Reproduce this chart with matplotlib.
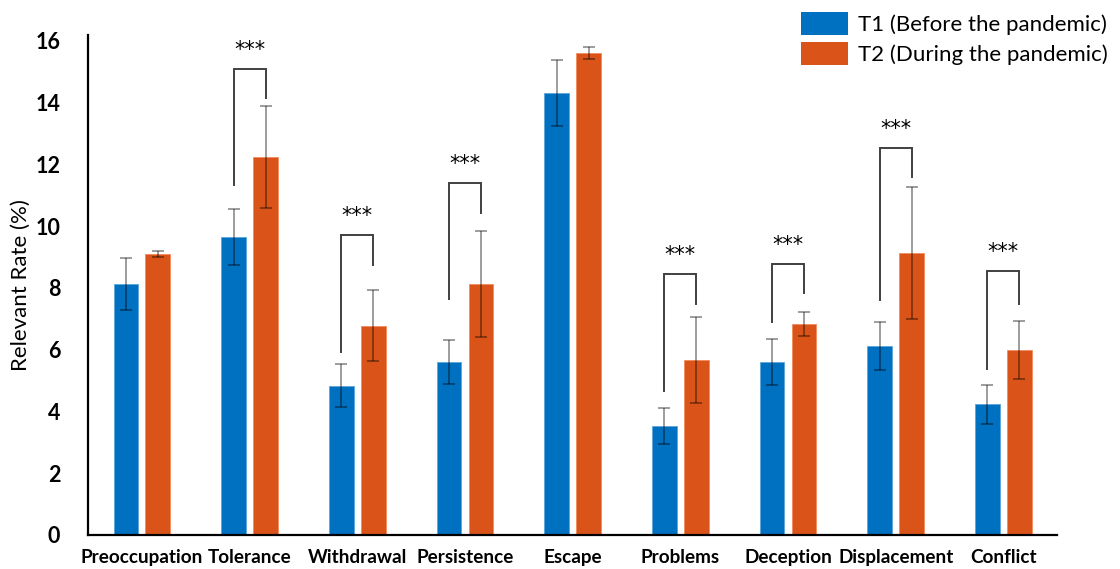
import matplotlib
matplotlib.use('Agg')
from matplotlib import pyplot as plt
from matplotlib.patches import Patch
import numpy as np

categories = ["Preoccupation", "Tolerance", "Withdrawal", "Persistence", "Escape",
              "Problems", "Deception", "Displacement", "Conflict"]
t1_values = [8.13, 9.65, 4.83, 5.60, 14.32, 3.53, 5.60, 6.12, 4.24]
t1_errors = [0.84, 0.92, 0.70, 0.70, 1.08, 0.57, 0.74, 0.78, 0.63]
t2_values = [9.10, 12.24, 6.77, 8.13, 15.61, 5.67, 6.83, 9.13, 5.99]
t2_errors = [0.10, 1.65, 1.15, 1.72, 0.18, 1.40, 0.39, 2.14, 0.95]
series_names = ["T1 (Before the pandemic)", "T2 (During the pandemic)"]

# significance brackets: category index, left end, right end, top, label
brackets = [
    (1, 11.34, 14.15, 15.10, "***"),
    (2, 5.93, 8.75, 9.72, "***"),
    (3, 7.65, 10.43, 11.40, "***"),
    (5, 4.66, 7.48, 8.45, "***"),
    (6, 6.90, 7.84, 8.78, "***"),
    (7, 7.61, 11.60, 12.53, "***"),
    (8, 5.38, 7.49, 8.55, "***"),
]

plt.rcParams['font.family'] = ['Lato', 'DejaVu Sans']

blue = '#0070C0'
orange = '#DA5419'

fig = plt.figure(figsize=(11.2, 5.69), dpi=100)
ax = fig.add_axes([0.0786, 0.0598, 0.8654, 0.879])

x = np.arange(len(categories))
w = 0.23
off = 0.148
err_kw = dict(ecolor=(0, 0, 0, 0.45), elinewidth=1.2, capsize=4, capthick=1.2)
ax.bar(x - off, t1_values, w, yerr=t1_errors, color=blue, edgecolor='#5aa6dc',
       linewidth=0.6, error_kw=err_kw, label=series_names[0])
ax.bar(x + off, t2_values, w, yerr=t2_errors, color=orange, edgecolor='#f08a5a',
       linewidth=0.6, error_kw=err_kw, label=series_names[1])

for i, lo_l, lo_r, top, lab in brackets:
    ax.plot([i - off, i - off, i + off, i + off], [lo_l, top, top, lo_r],
             color='#404040', lw=1.4, solid_joinstyle='miter')
    ax.text(i, top + 0.3, lab, ha='center', va='bottom', fontsize=15,
            color='black', family='DejaVu Sans')

ax.set_xlim(-0.5, len(categories) - 0.5)
ax.set_ylim(0, 16.2)
ax.set_yticks(np.arange(0, 17, 2))
ax.set_xticks(x)
ax.set_xticklabels(categories, fontsize=13.6, fontweight='bold')
for lbl in ax.get_yticklabels():
    lbl.set_fontsize(15.5)
    lbl.set_fontweight('bold')
ax.tick_params(axis='x', length=0, pad=10)
ax.tick_params(axis='y', length=0, pad=20)
ax.set_ylabel("Relevant Rate (%)", fontsize=16)
ax.yaxis.set_label_coords(-0.059, 0.5)

for s in ['top', 'right']:
    ax.spines[s].set_visible(False)
for s in ['left', 'bottom']:
    ax.spines[s].set_linewidth(1.6)
    ax.spines[s].set_color('black')

handles = [Patch(facecolor=blue), Patch(facecolor=orange)]
fig.legend(handles, series_names, loc='upper right', bbox_to_anchor=(1.0, 1.0),
           frameon=False, fontsize=16, handlelength=2.1, handleheight=1.2,
           handletextpad=0.45, labelspacing=0.3, borderaxespad=0.15)

fig.savefig('out.png', dpi=100)
